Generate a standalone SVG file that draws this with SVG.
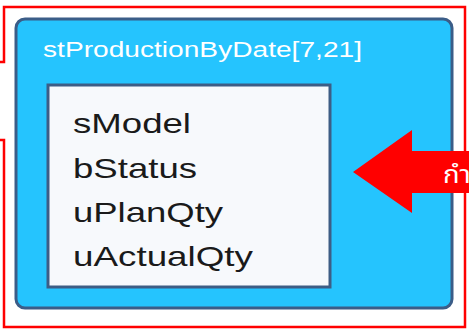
<svg xmlns="http://www.w3.org/2000/svg" width="469" height="333" viewBox="0 0 469 333">
<style>
.frame{fill:none;stroke:#ff0000;stroke-width:2.5}
.outer{fill:#25c4fe;stroke:#3b5d88;stroke-width:3}
.inner{fill:#f7f9fc;stroke:#3d5d85;stroke-width:3}
.title{font-family:"Liberation Sans",Arial,sans-serif;font-size:22px;fill:#ffffff}
.field{font-family:"Liberation Sans",Arial,sans-serif;font-size:28px;fill:#1a1a1a}
.thai{font-family:"Noto Sans Thai","Noto Sans","DejaVu Sans",sans-serif;font-size:24px;fill:#ffffff}
</style>
<rect width="469" height="333" fill="#ffffff"/>
<g id="frame">
<path class="frame" d="M0 62 H4 V7 H465 V327 H4 V140 H0"/>
</g>
<g id="struct">
<rect class="outer" x="16" y="19" width="436" height="289" rx="9"/>
<text class="title" x="43" y="57" textLength="319" lengthAdjust="spacingAndGlyphs">stProductionByDate[7,21]</text>
</g>
<g id="fields">
<rect class="inner" x="48" y="85" width="282" height="202"/>
<text class="field" x="73" y="133" textLength="118" lengthAdjust="spacingAndGlyphs">sModel</text>
<text class="field" x="73" y="177.5" textLength="124" lengthAdjust="spacingAndGlyphs">bStatus</text>
<text class="field" x="73" y="222" textLength="150" lengthAdjust="spacingAndGlyphs">uPlanQty</text>
<text class="field" x="73" y="266" textLength="180" lengthAdjust="spacingAndGlyphs">uActualQty</text>
</g>
<g id="connectors">
<polygon points="353,172 412,130 412,151 469,151 469,193 412,193 412,213" fill="#ff0000"/>
<text class="thai" x="443" y="183" transform="translate(443,0) scale(1.15,1) translate(-443,0)">กำ</text>
</g>
</svg>
